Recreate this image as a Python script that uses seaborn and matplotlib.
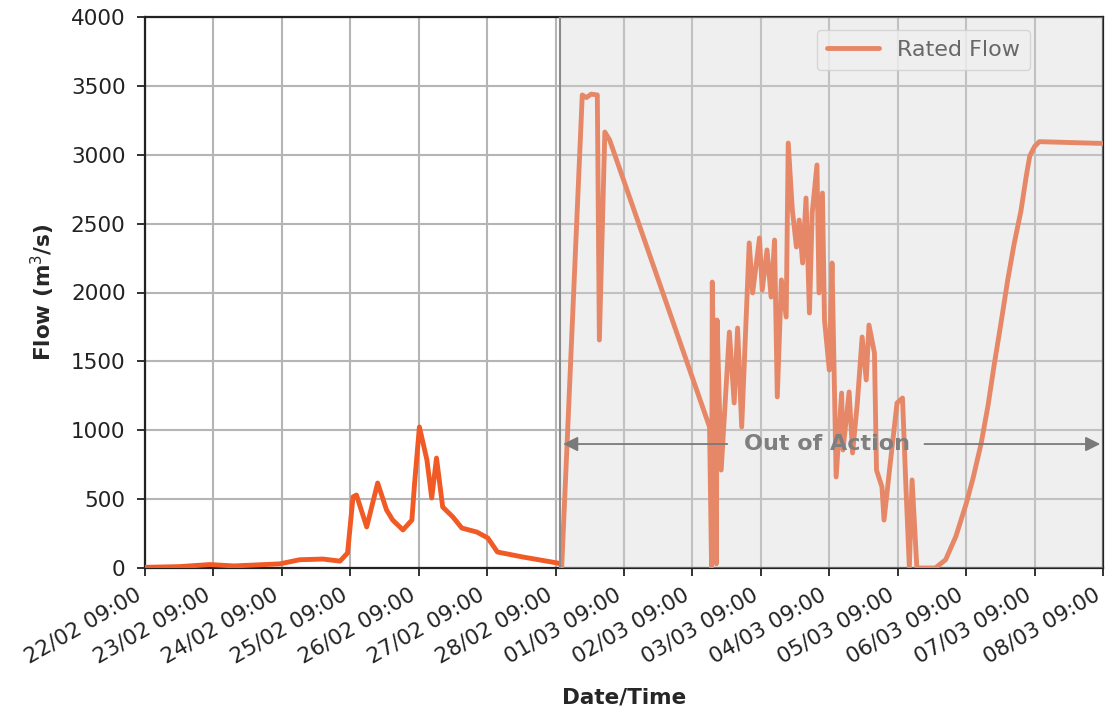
import pandas as pd
import numpy as np
import seaborn as sns
import matplotlib.pyplot as plt
import matplotlib.dates as mdates
import matplotlib.transforms as mtransforms

# Flow series (days after 22/02 09:00, m3/s)
days = [0.0, 0.5, 0.95, 1.3, 1.97, 2.26, 2.6, 2.85, 2.96, 3.04, 3.09, 3.24, 3.4, 3.53,
        3.62, 3.77, 3.9, 3.94, 4.01, 4.12, 4.19, 4.26, 4.35, 4.5, 4.63, 4.85, 5.01,
        5.15, 5.52, 6.03, 6.07, 6.09, 6.39, 6.45, 6.52, 6.61, 6.64, 6.72, 6.79, 8.25,
        8.28, 8.29, 8.35, 8.36, 8.42, 8.54, 8.61, 8.66, 8.72, 8.76, 8.83, 8.88, 8.98,
        9.02, 9.09, 9.15, 9.2, 9.24, 9.3, 9.37, 9.4, 9.46, 9.52, 9.56, 9.61, 9.66,
        9.71, 9.75, 9.82, 9.85, 9.9, 9.93, 10.0, 10.04, 10.1, 10.18, 10.2, 10.29,
        10.34, 10.41, 10.48, 10.54, 10.58, 10.66, 10.69, 10.77, 10.8, 10.88, 10.99,
        11.07, 11.12, 11.17, 11.21, 11.28, 11.55, 11.7, 11.85, 12.0, 12.1, 12.22,
        12.32, 12.41, 12.5, 12.61, 12.7, 12.8, 12.88, 12.93, 13.0, 13.07, 14.0]
flow = [5, 10, 25, 15, 30, 60, 65, 50, 109, 516, 530, 298, 617, 421,
        348, 276, 348, 617, 1024, 784, 508, 798, 443, 370, 290, 261, 218,
        116, 80, 36, 30, 10, 3434, 3415, 3440, 3434, 1655, 3165, 3107, 1024,
        0, 2076, 30, 1800, 711, 1713, 1198, 1742, 1024, 1510, 2360, 1997, 2396,
        2018, 2309, 1967, 2381, 1242, 2091, 1822, 3085, 2599, 2330, 2526, 2214, 2686,
        1851, 2577, 2926, 1997, 2722, 1800, 1437, 2214, 661, 1270, 857, 1278,
        835, 1198, 1677, 1365, 1764, 1561, 711, 588, 348, 711, 1198,
        1234, 588, 7, 639, 0, 0, 60, 230, 466, 650, 906,
        1180, 1476, 1750, 2098, 2350, 2590, 2850, 2991, 3060, 3095, 3082]

start = pd.Timestamp("2019-02-22 09:00")
out_of_action_day = 6.07
n_days = 14

df = pd.DataFrame({"time": start + pd.to_timedelta(days, unit="D"), "flow": flow})

sns.set_style("whitegrid")
fig = plt.figure(figsize=(11.05, 7.15), dpi=100)
ax = fig.add_axes([145 / 1105, 147 / 715, 958 / 1105, 551 / 715])

sns.lineplot(data=df, x="time", y="flow", color="#f15a24", lw=3.5,
             label="Rated Flow", estimator=None, ax=ax, zorder=3)

t_out = start + pd.Timedelta(days=out_of_action_day)
t_end = start + pd.Timedelta(days=n_days)

# greyed-out period drawn over the line
ax.axvspan(t_out, t_end, color="#d5d5d5", alpha=0.38, zorder=5, lw=0)
ax.axvline(t_out, color="#8a8a8a", lw=1.5, zorder=6)

# Out of Action arrows + label
y_arr = 900
arrow_kw = dict(arrowstyle="-|>", color="#7a7a7a", lw=1.3, mutation_scale=22)
ax.annotate("", xy=(t_out, y_arr), xytext=(start + pd.Timedelta(days=8.55), y_arr),
            arrowprops=arrow_kw, zorder=7)
ax.annotate("", xy=(t_end, y_arr), xytext=(start + pd.Timedelta(days=11.35), y_arr),
            arrowprops=arrow_kw, zorder=7)
ax.text(start + pd.Timedelta(days=9.97), y_arr, "Out of Action", ha="center", va="center",
        fontsize=16, fontweight="bold", color="#7f7f7f", zorder=7)

ax.set_xlim(start, t_end)
ax.set_ylim(0, 4000)
ax.set_yticks(np.arange(0, 4001, 500))
ax.set_xticks(pd.date_range(start, periods=n_days + 1, freq="D"))
ax.xaxis.set_major_formatter(mdates.DateFormatter("%d/%m %H:%M"))

ax.grid(True, color="#b5b5b5", lw=1.5)
ax.tick_params(axis="both", length=6, width=1.3, direction="out",
               bottom=True, left=True, colors="#222222", labelcolor="#222222")
ax.tick_params(axis="y", labelsize=15.5, pad=8)
ax.tick_params(axis="x", labelsize=15.5, pad=4)

# rotated date labels, nudged a little left of the tick
shift = mtransforms.ScaledTranslation(-0.1, -0.03, fig.dpi_scale_trans)
for lab in ax.get_xticklabels():
    lab.set_rotation(30)
    lab.set_ha("right")
    lab.set_rotation_mode("anchor")
    lab.set_transform(lab.get_transform() + shift)

for side in ["left", "bottom", "top", "right"]:
    ax.spines[side].set_color("#222222")
    ax.spines[side].set_linewidth(1.6)

ax.set_xlabel("Date/Time", fontsize=15.5, fontweight="bold", labelpad=14)
ax.set_ylabel("Flow (m$^3$/s)", fontsize=15.5, fontweight="bold", labelpad=10)

leg = ax.legend(loc="upper left", fontsize=16, frameon=True, framealpha=0.8,
                borderpad=0.45, handlelength=2.35, handletextpad=0.8,
                borderaxespad=0, bbox_to_anchor=((817 - 145) / 958, (568 - 30) / 551))
leg.set_zorder(4)

fig.savefig("out.png", dpi=100)
